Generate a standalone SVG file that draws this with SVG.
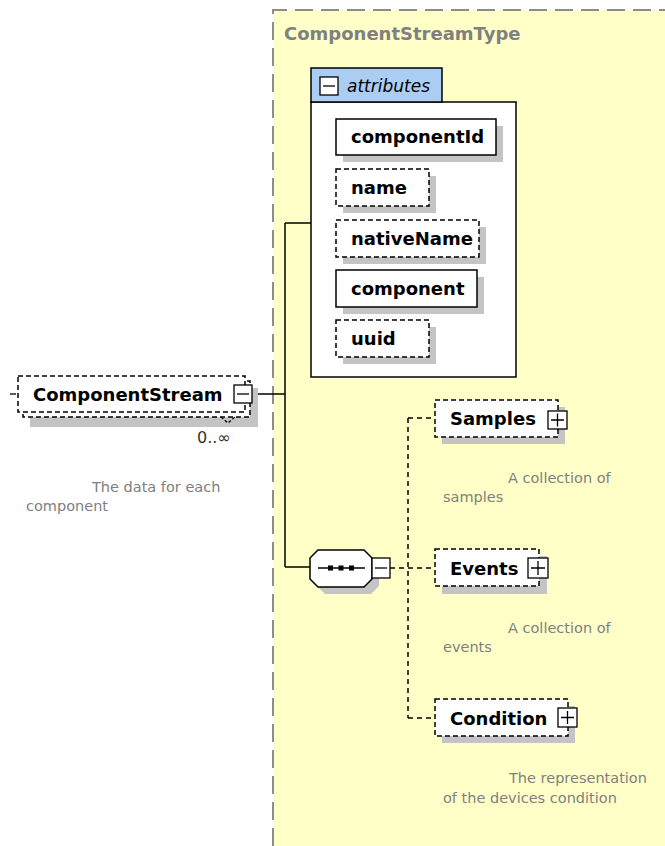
<svg xmlns="http://www.w3.org/2000/svg" width="665" height="846" viewBox="0 0 665 846">
  <style>
    .bg { fill: #ffffff; }
    .area { fill: #ffffc8; }
    .area-edge { fill: none; stroke: #8c8c8c; stroke-width: 2; stroke-dasharray: 18 8; }
    .shadow { fill: #c4c4c4; stroke: none; }
    .solid { fill: #ffffff; stroke: #000000; stroke-width: 1.5; }
    .dash { fill: #ffffff; stroke: #000000; stroke-width: 1.5; stroke-dasharray: 5 3; }
    .btn { fill: #ffffff; stroke: #000000; stroke-width: 1.3; }
    .sym { fill: none; stroke: #000000; stroke-width: 1.3; }
    .wire { fill: none; stroke: #000000; stroke-width: 1.5; }
    .wire-opt { fill: none; stroke: #000000; stroke-width: 1.5; stroke-dasharray: 5 4; }
    .label { font-family: "DejaVu Sans", Verdana, sans-serif; font-weight: bold; font-size: 18px; fill: #000000; }
    .title { font-family: "DejaVu Sans", Verdana, sans-serif; font-weight: bold; font-size: 18px; fill: #808080; }
    .note { font-family: "DejaVu Sans", Verdana, sans-serif; font-size: 14.5px; fill: #808080; }
    .occurs { font-family: "DejaVu Sans", Verdana, sans-serif; font-size: 16px; fill: #333333; }
    .tab { fill: #abcdf2; stroke: #000000; stroke-width: 1.5; }
    .italic { font-family: "DejaVu Sans", Verdana, sans-serif; font-style: italic; font-size: 17px; fill: #000000; }
  </style>

  <rect class="bg" x="0" y="0" width="665" height="846"/>

  <!-- complex type area -->
  <g id="ComponentStreamType">
    <rect class="area" x="273" y="10" width="392" height="836"/>
    <path class="area-edge" d="M273,846 V10 H665"/>
    <text class="title" x="284" y="40">ComponentStreamType</text>
  </g>

  <!-- connectors -->
  <g id="connectors">
    <path class="wire" d="M252,394 H285 M285,223 V567 M285,223 H311 M285,567 H311"/>
    <path class="wire-opt" d="M390,568 H435 M408,418 V718 M408,418 H435 M408,718 H435"/>
  </g>

  <!-- element ComponentStream (0..unbounded) -->
  <g id="ComponentStream">
    <path class="sym" d="M10,394 H16"/>
    <rect class="shadow" x="30" y="388" width="228" height="39"/>
    <rect class="dash" x="23" y="381" width="227" height="36"/>
    <rect class="dash" x="18" y="376" width="227" height="36"/>
    <path class="sym" d="M221,417 L228,423 L235,417" stroke-dasharray="3 2"/>
    <rect class="btn" x="234" y="385" width="18" height="18"/>
    <path class="sym" d="M237,394 H249"/>
    <text class="label" x="33" y="401">ComponentStream</text>
    <text class="occurs" x="197" y="443">0..∞</text>
    <text class="note" x="92" y="492">The data for each</text>
    <text class="note" x="26" y="511">component</text>
  </g>

  <!-- attribute group -->
  <g id="attributes">
    <rect class="solid" x="311" y="102" width="205" height="275"/>
    <rect class="tab" x="311" y="68" width="131" height="34"/>
    <rect class="btn" x="320" y="77" width="18" height="18"/>
    <path class="sym" d="M323,86 H335"/>
    <text class="italic" x="347" y="92">attributes</text>
  </g>

  <g id="attr-componentId">
    <rect class="shadow" x="343" y="126" width="160" height="36"/>
    <rect class="solid" x="336" y="119" width="160" height="36"/>
    <text class="label" x="351" y="143">componentId</text>
  </g>
  <g id="attr-name">
    <rect class="shadow" x="343" y="176" width="93" height="37"/>
    <rect class="dash" x="336" y="169" width="93" height="37"/>
    <text class="label" x="351" y="194">name</text>
  </g>
  <g id="attr-nativeName">
    <rect class="shadow" x="343" y="227" width="143" height="37"/>
    <rect class="dash" x="336" y="220" width="143" height="37"/>
    <text class="label" x="351" y="245">nativeName</text>
  </g>
  <g id="attr-component">
    <rect class="shadow" x="343" y="277" width="141" height="37"/>
    <rect class="solid" x="336" y="270" width="141" height="37"/>
    <text class="label" x="351" y="295">component</text>
  </g>
  <g id="attr-uuid">
    <rect class="shadow" x="343" y="327" width="93" height="37"/>
    <rect class="dash" x="336" y="320" width="93" height="37"/>
    <text class="label" x="351" y="345">uuid</text>
  </g>

  <!-- sequence compositor -->
  <g id="sequence">
    <polygon class="shadow" points="325,557 371,557 379,565 379,586 371,594 325,594 317,586 317,565"/>
    <polygon class="solid" points="318,550 364,550 372,558 372,579 364,587 318,587 310,579 310,558"/>
    <path class="wire" d="M318,568 H365"/>
    <rect x="328" y="565.5" width="5" height="5" fill="#000000"/>
    <rect x="338.5" y="565.5" width="5" height="5" fill="#000000"/>
    <rect x="349" y="565.5" width="5" height="5" fill="#000000"/>
    <rect class="btn" x="372" y="558" width="18" height="20"/>
    <path class="sym" d="M375,568 H387"/>
  </g>

  <!-- child elements -->
  <g id="Samples">
    <rect class="shadow" x="442" y="407" width="123" height="37"/>
    <rect class="dash" x="435" y="400" width="123" height="37"/>
    <rect class="btn" x="548" y="411" width="19" height="18"/>
    <path class="sym" d="M551,420 H564 M557.5,413.5 V426.5"/>
    <text class="label" x="450" y="425">Samples</text>
    <text class="note" x="508" y="483">A collection of</text>
    <text class="note" x="443" y="502">samples</text>
  </g>

  <g id="Events">
    <rect class="shadow" x="442" y="556" width="105" height="38"/>
    <rect class="dash" x="435" y="549" width="104" height="37"/>
    <rect class="btn" x="528" y="558" width="20" height="20"/>
    <path class="sym" d="M531,568 H545 M538,561 V575"/>
    <text class="label" x="450" y="575">Events</text>
    <text class="note" x="508" y="633">A collection of</text>
    <text class="note" x="443" y="652">events</text>
  </g>

  <g id="Condition">
    <rect class="shadow" x="442" y="706" width="133" height="37"/>
    <rect class="dash" x="435" y="699" width="133" height="37"/>
    <rect class="btn" x="558" y="708" width="19" height="19"/>
    <path class="sym" d="M561,717.5 H574 M567.5,711 V724"/>
    <text class="label" x="450" y="725">Condition</text>
    <text class="note" x="509" y="783">The representation</text>
    <text class="note" x="443" y="803">of the devices condition</text>
  </g>
</svg>
